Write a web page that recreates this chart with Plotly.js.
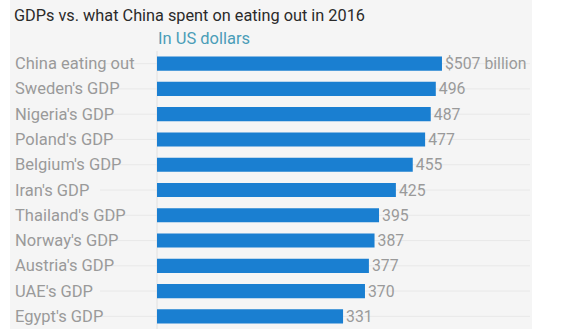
<!DOCTYPE html>
<html><head><meta charset="utf-8">
<script src="https://cdn.plot.ly/plotly-3.0.1.min.js"></script>
<style>body{margin:0;background:#fff}#c{width:580px;height:329px}</style>
</head><body><div id="c"></div>
<script>
const categories = ["China eating out","Sweden's GDP","Nigeria's GDP","Poland's GDP","Belgium's GDP","Iran's GDP","Thailand's GDP","Norway's GDP","Austria's GDP","UAE's GDP","Egypt's GDP"];
const values = [507,496,487,477,455,425,395,387,377,370,331];
const valueLabels = ["$507 billion","496","487","477","455","425","395","387","377","370","331"];

const W=580, L=157, R=48;
const pw = W-L-R;
const px = p => (p-L)/pw;

const shapes = [
  {type:'rect', xref:'paper', yref:'paper', x0:px(10), x1:px(532), y0:-0.2, y1:1.3, fillcolor:'#f5f5f5', line:{width:0}, layer:'below'}
];
categories.forEach(c=>{
  shapes.push({type:'line', xref:'paper', yref:'y', x0:px(100), x1:px(530), y0:c, y1:c, line:{color:'#e8e8e8', width:1}, layer:'below'});
});
shapes.push({type:'line', xref:'paper', yref:'paper', x0:0, x1:0, y0:0, y1:1, line:{color:'#e0e0e0', width:1}, layer:'below'});

const annotations = categories.map(c=>({
  xref:'paper', yref:'y', x:px(13), y:c, xanchor:'left', yanchor:'middle',
  text:c, showarrow:false, font:{family:'Roboto, sans-serif', size:16.5, color:'#9a9a9a'}
}));
annotations.push({xref:'paper', yref:'paper', x:px(156), y:1.0, yshift:1, xanchor:'left', yanchor:'bottom',
  text:'In US dollars', showarrow:false, font:{family:'Roboto, sans-serif', size:16.5, color:'#4a9db8'}});

Plotly.newPlot('c', [{
  type:'bar', orientation:'h', y:categories, x:values,
  text:valueLabels, textposition:'outside', cliponaxis:false, constraintext:'none',
  textfont:{family:'Roboto, sans-serif', size:15.8, color:'#9a9a9a'},
  marker:{color:'#1a7fd1'}, hoverinfo:'none'
}], {
  width:580, height:329,
  margin:{l:L, r:R, t:51, b:0, pad:0},
  paper_bgcolor:'#ffffff', plot_bgcolor:'rgba(0,0,0,0)',
  bargap:0.44,
  title:{text:'GDPs vs. what China spent on eating out in 2016', x:14/580, xref:'container', xanchor:'left', y:1, yref:'container', yanchor:'top', pad:{t:10}, font:{family:'Roboto, sans-serif', size:16.3, color:'#2a2a2a'}},
  xaxis:{range:[0, pw/0.5621], visible:false, fixedrange:true},
  yaxis:{autorange:'reversed', showticklabels:false, showgrid:false, zeroline:false, ticks:'', fixedrange:true},
  shapes:shapes, annotations:annotations, showlegend:false
}, {staticPlot:true});
</script></body></html>
